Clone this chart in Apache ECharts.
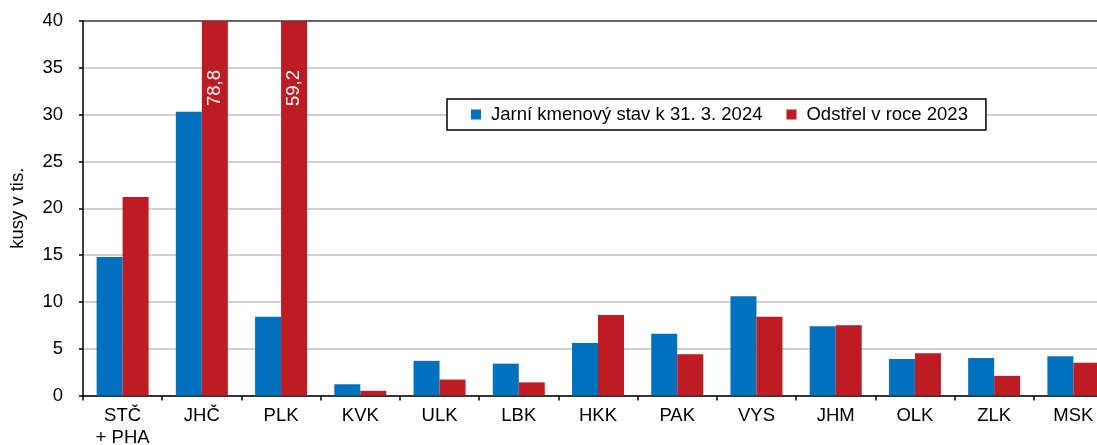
<!DOCTYPE html>
<html>
<head>
<meta charset="utf-8">
<script src="https://cdn.jsdelivr.net/npm/echarts@6/dist/echarts.min.js"></script>
<style>
  html, body { margin: 0; padding: 0; background: #fff; }
  #chart { width: 1097px; height: 445px; }
</style>
</head>
<body>
<div id="chart"></div>
<script>
// Data (thousands of pieces)
const categories = ['STČ\n+ PHA', 'JHČ', 'PLK', 'KVK', 'ULK', 'LBK', 'HKK', 'PAK', 'VYS', 'JHM', 'OLK', 'ZLK', 'MSK'];
const kmenovyStav = [14.8, 30.3, 8.4, 1.2, 3.7, 3.4, 5.6, 6.6, 10.6, 7.4, 3.9, 4.0, 4.2];
const odstrel = [21.2, 78.8, 59.2, 0.5, 1.7, 1.4, 8.6, 4.4, 8.4, 7.5, 4.5, 2.1, 3.5];
const yTicks = [0, 5, 10, 15, 20, 25, 30, 35, 40];
const legendNames = ['Jarní kmenový stav k 31. 3. 2024', 'Odstřel v roce 2023'];

const yMax = yTicks[yTicks.length - 1];
const font = 'Arial, "Liberation Sans", sans-serif';
const fs = 18.5;

const chart = echarts.init(document.getElementById('chart'));

// bars taller than the axis are cut at the top and get the real value as a label
const odstrelData = odstrel.map((v) => {
  if (v <= yMax) return v;
  return {
    value: yMax,
    label: {
      show: true,
      formatter: String(v).replace('.', ','),
      position: ['50%', 67],
      rotate: 90,
      align: 'center',
      verticalAlign: 'middle',
      color: '#fff',
      fontSize: fs,
      fontFamily: font,
    },
  };
});

const option = {
  animation: false,
  textStyle: { fontFamily: font },
  legend: {
    data: legendNames,
    left: 447,
    top: 99,
    padding: [6, 18, 6, 24],
    itemGap: 24,
    itemWidth: 10,
    itemHeight: 10,
    icon: 'rect',
    selectedMode: false,
    backgroundColor: '#fff',
    borderColor: '#000',
    borderWidth: 1.5,
    textStyle: { fontSize: fs, color: '#000', fontFamily: font, padding: [0, 0, 0, 5] },
  },
  grid: {
    left: 83,
    width: 1030,
    top: 21,
    bottom: 49.5,
    outerBoundsMode: 'none', // the right end of the plot runs off the page, like in the source
  },
  xAxis: {
    type: 'category',
    data: categories,
    axisLine: { lineStyle: { color: '#000', width: 1.5 } },
    axisTick: { show: true, length: 5, lineStyle: { color: '#000', width: 1.5 } },
    axisLabel: { color: '#000', fontSize: fs, margin: 9, lineHeight: 22, fontFamily: font },
  },
  yAxis: {
    type: 'value',
    min: yTicks[0],
    max: yMax,
    interval: 5,
    name: 'kusy v tis.',
    nameLocation: 'middle',
    nameGap: 56,
    nameTextStyle: { color: '#000', fontSize: fs, fontFamily: font },
    axisLine: { show: true, lineStyle: { color: '#000', width: 1.5 } },
    axisTick: { show: true, length: 4, lineStyle: { color: '#000', width: 1.5 } },
    axisLabel: { color: '#000', fontSize: fs, margin: 20, fontFamily: font },
    splitLine: {
      lineStyle: {
        color: yTicks.map((t) => (t === yMax ? '#333' : '#c0c0c0')),
        width: 1.5,
      },
    },
  },
  series: [
    {
      name: legendNames[0],
      type: 'bar',
      data: kmenovyStav,
      barWidth: 26,
      barGap: '0%',
      itemStyle: { color: '#0071bd' },
    },
    {
      name: legendNames[1],
      type: 'bar',
      data: odstrelData,
      barWidth: 26,
      barGap: '0%',
      itemStyle: { color: '#be1c24' },
    },
  ],
};

chart.setOption(option);
</script>
</body>
</html>
